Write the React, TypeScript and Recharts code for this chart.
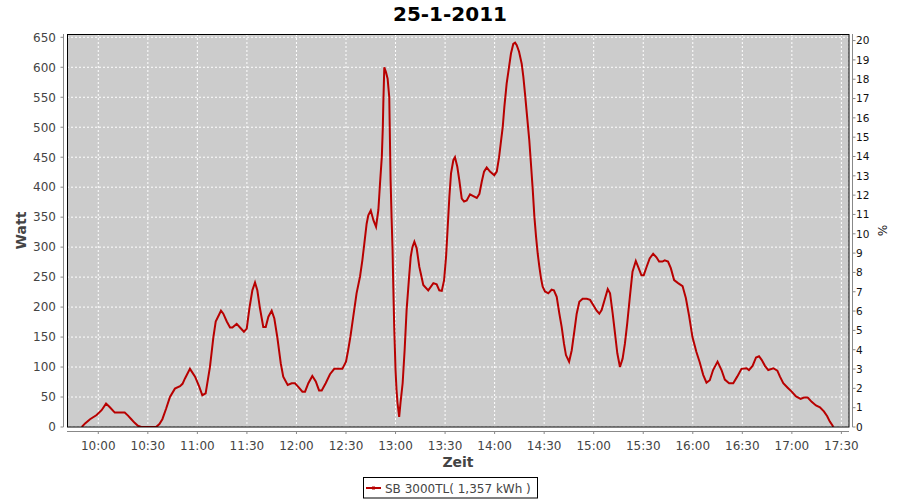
import React from 'react';
import { LineChart, Line, XAxis, YAxis, CartesianGrid } from 'recharts';

// time in minutes since midnight
const times = [
  590, 592, 595, 599, 602, 604.7, 607, 610, 613, 616, 618, 620, 622, 624, 626, 635, 637, 638.8, 641, 643.4,
  646.4, 649.5, 651, 652.5, 655.5, 658.6, 661, 663, 665, 667.6, 669.7, 671.1, 674.3, 675.7, 677.8, 679.8,
  681.2, 683.8, 685.8, 688.2, 689.9, 691.5, 693.3, 694.9, 696.3, 697.9, 699.9, 701.4, 703, 705, 706.6, 708.4,
  710.5, 712, 714.7, 717.1, 719.1, 721.1, 723.6, 725.2, 727.2, 729.6, 731.7, 733.7, 735.3, 737.7, 740.3, 742.9,
  747.8, 750, 751.3, 752.7, 754.4, 756.4, 758.5, 759.9, 761.1, 762.5, 763.5, 765, 766.6, 768.2, 769.6, 770.6,
  771.7, 772.3, 772.6, 773.2, 774.2, 775.2, 776.2, 777, 777.6, 778.2, 778.6, 779.2, 780, 780.6, 781.2, 782.2,
  783, 784.3, 785.5, 786.7, 788.2, 789.2, 790.2, 791.4, 792.8, 794.4, 795.3, 796.8, 799.8, 802.9, 804.9, 806.5,
  808, 809.4, 810.6, 811.6, 812.6, 813.6, 815, 816, 817.4, 818.6, 820.1, 821.5, 823.1, 825.1, 827.1, 829.2,
  830.8, 832.2, 833.6, 835.2, 837.2, 839.8, 841.3, 842.7, 843.7, 844.9, 845.9, 847.3, 848.7, 849.9, 851.3, 852.4,
  853.4, 854.8, 856.4, 857.4, 858.4, 859.8, 861, 862, 863.1, 864.1, 865.1, 866.1, 867.1, 868.1, 869.1, 870.5,
  872.5, 874.5, 875.9, 877.6, 879.2, 880.6, 882, 883.2, 885.1, 886.7, 888.1, 889.7, 891.3, 893.3, 895.8, 897.8,
  899.8, 901.8, 903.4, 904.8, 906.8, 908.5, 909.9, 911.5, 912.9, 914.3, 915.9, 917.5, 918.9, 920.3, 921.9, 923.5,
  925.5, 927.1, 928.9, 930.3, 931.9, 933.9, 936, 938, 939.6, 941.6, 943, 945, 946.7, 948.7, 951.1, 953.8,
  955.8, 957.8, 959.8, 962.2, 964.2, 966.3, 968.3, 970.3, 972.3, 975, 977.4, 979.4, 982, 984.5, 986.9, 989.5,
  992.6, 994, 996.2, 998.3, 1000.1, 1001.7, 1003.7, 1005.7, 1008.8, 1011.2, 1012.8, 1014.8, 1017.3, 1019.9, 1022.5, 1025.3,
  1027.3, 1029.6, 1032, 1034.6, 1037, 1039.4, 1041.4, 1043, 1044.7, 1045,
];

// power in Watt
const watts = [
  0, 6, 13, 20, 28, 39, 33, 24, 24, 24, 19, 13, 7, 2, 0, 0, 5, 13, 30, 50,
  64, 68, 72, 81, 97, 84, 68, 53, 56, 100, 150, 176, 194, 189, 176, 166,
  166, 172, 166, 159, 164, 198, 228, 241, 228, 198, 167, 167, 184, 194, 181, 150,
  106, 84, 70, 73, 73, 67, 59, 59, 73, 85, 76, 61, 61, 73, 88, 97,
  97, 109, 128, 151, 184, 223, 251, 278, 306, 339, 353, 361, 345, 334, 362, 406,
  451, 500, 539, 600, 592, 581, 550, 412, 350, 295, 240, 167, 95, 62, 40, 17,
  40, 73, 128, 195, 250, 284, 300, 309, 298, 267, 256, 237, 228, 240, 238, 228,
  227, 245, 284, 334, 384, 423, 445, 450, 434, 412, 381, 376, 378, 388, 385, 382,
  389, 409, 426, 433, 426, 420, 426, 450, 473, 500, 534, 573, 600, 623, 639, 641,
  637, 626, 606, 584, 556, 514, 478, 439, 395, 350, 317, 289, 267, 248, 234, 226,
  223, 229, 228, 217, 189, 167, 139, 120, 109, 128, 156, 189, 209, 214, 214, 212,
  203, 194, 189, 195, 214, 230, 223, 189, 156, 123, 100, 114, 139, 173, 217, 259,
  277, 266, 253, 253, 266, 281, 289, 283, 276, 276, 278, 276, 265, 245, 240, 235,
  215, 185, 150, 125, 108, 87, 74, 78, 95, 109, 95, 79, 73, 73, 84, 97,
  98, 95, 102, 116, 118, 112, 102, 95, 98, 94, 84, 73, 66, 59, 51, 47,
  49, 49, 42, 36, 33, 26, 18, 9, 2, 0,
];

const xTickLabels = ['10:00', '10:30', '11:00', '11:30', '12:00', '12:30', '13:00', '13:30', '14:00', '14:30', '15:00', '15:30', '16:00', '16:30', '17:00', '17:30'];
const wattTicks = [0, 50, 100, 150, 200, 250, 300, 350, 400, 450, 500, 550, 600, 650];
const pctTicks = [0, 1, 2, 3, 4, 5, 6, 7, 8, 9, 10, 11, 12, 13, 14, 15, 16, 17, 18, 19, 20];

const title = '25-1-2011';
const seriesName = 'SB 3000TL( 1,357 kWh )';

const toMin = (s: string) => {
  const [h, m] = s.split(':').map(Number);
  return h * 60 + m;
};
const fmt = (m: number) => `${Math.floor(m / 60)}:${String(Math.round(m % 60)).padStart(2, '0')}`;
const xTicks = xTickLabels.map(toMin);

const data = times.map((t, i) => ({ t, w: watts[i] }));

const FONT = '"DejaVu Sans", sans-serif';
const RED = '#b80000';

const XTick = (props: any) => {
  const { x, payload } = props;
  return (
    <g>
      <line x1={x} x2={x} y1={431} y2={434} stroke="#888" />
      <text x={x} y={450} textAnchor="middle" fontSize={12} fontFamily={FONT} fill="#444">
        {fmt(payload.value)}
      </text>
    </g>
  );
};

const LeftTick = (props: any) => {
  const { y, payload } = props;
  return (
    <g>
      <line x1={60.5} x2={63.5} y1={y} y2={y} stroke="#888" />
      <text x={56} y={y + 4.3} textAnchor="end" fontSize={12} fontFamily={FONT} fill="#444">
        {payload.value}
      </text>
    </g>
  );
};

const RightTick = (props: any) => {
  const { y, payload } = props;
  return (
    <g>
      <line x1={852.5} x2={855.5} y1={y} y2={y} stroke="#888" />
      <text x={856} y={y + 3.8} textAnchor="start" fontSize={10.5} fontFamily={FONT} fill="#111">
        {payload.value}
      </text>
    </g>
  );
};

export default function App() {
  return (
    <div style={{ position: 'absolute', left: 0, top: 0, width: 900, height: 500, background: '#fff' }}>
      <LineChart
        width={900}
        height={500}
        data={data}
        margin={{ top: 34, right: 11, bottom: 43, left: 27 }}
      >
        <CartesianGrid
          yAxisId="w"
          stroke="#ffffff"
          strokeDasharray="2 2"
          fill="#cccccc"
          fillOpacity={1}
        />
        <XAxis
          dataKey="t"
          type="number"
          domain={[581.05, 1054.6]}
          allowDataOverflow
          ticks={xTicks}
          height={30}
          axisLine={false}
          tickLine={false}
          tick={XTick}
          interval={0}
        />
        <YAxis
          yAxisId="w"
          type="number"
          domain={[0, 655.5]}
          allowDataOverflow
          ticks={wattTicks}
          width={40}
          axisLine={false}
          tickLine={false}
          tick={LeftTick}
          interval={0}
        />
        <YAxis
          yAxisId="p"
          orientation="right"
          type="number"
          domain={[0, 20.34]}
          allowDataOverflow
          ticks={pctTicks}
          width={40}
          axisLine={false}
          tickLine={false}
          tick={RightTick}
          interval={0}
        />
        <Line
          yAxisId="w"
          type="linear"
          dataKey="w"
          stroke={RED}
          strokeWidth={2}
          dot={false}
          isAnimationActive={false}
        />
      </LineChart>
      <svg
        width={900}
        height={500}
        style={{ position: 'absolute', left: 0, top: 0, pointerEvents: 'none' }}
      >
        <rect x={67.5} y={34.5} width={781.5} height={392.5} fill="none" stroke="#000" strokeWidth={1} />
        <line x1={63.5} x2={63.5} y1={34} y2={427} stroke="#888" />
        <line x1={852.5} x2={852.5} y1={34} y2={427} stroke="#888" />
        <line x1={67} x2={849} y1={431.5} y2={431.5} stroke="#888" />
        <text x={450} y={21} textAnchor="middle" fontSize={20} fontWeight="bold" fontFamily={FONT} fill="#000">
          {title}
        </text>
        <text
          x={0}
          y={0}
          transform="translate(26,230.5) rotate(-90)"
          textAnchor="middle"
          fontSize={14}
          fontWeight="bold"
          fontFamily={FONT}
          fill="#444"
        >
          Watt
        </text>
        <text x={458} y={467} textAnchor="middle" fontSize={14} fontWeight="bold" fontFamily={FONT} fill="#444">
          Zeit
        </text>
        <text
          x={0}
          y={0}
          transform="translate(878,230.5) rotate(90)"
          textAnchor="middle"
          fontSize={12}
          fontFamily={FONT}
          fill="#222"
        >
          %
        </text>
        <rect x={363.5} y={477.5} width={174} height={20.5} fill="#fff" stroke="#000" />
        <line x1={366} x2={381} y1={488} y2={488} stroke={RED} strokeWidth={2} />
        <rect x={372} y={486.5} width={3} height={3} fill={RED} />
        <text x={385} y={492.5} fontSize={12} fontFamily={FONT} fill="#444">
          {seriesName}
        </text>
      </svg>
    </div>
  );
}
